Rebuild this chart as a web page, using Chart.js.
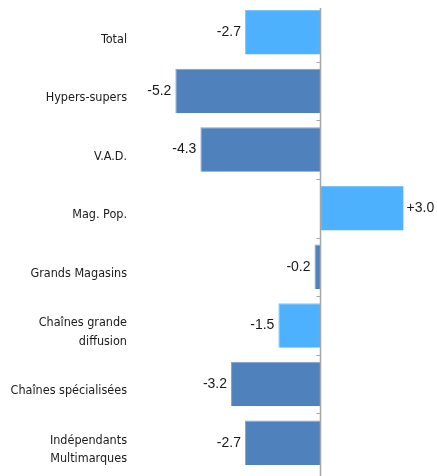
<!DOCTYPE html>
<html>
<head>
<meta charset="utf-8">
<script src="https://cdn.jsdelivr.net/npm/chart.js@4/dist/chart.umd.min.js"></script>
<style>
  html,body{margin:0;padding:0;background:#fff;}
  #wrap{width:437px;height:476px;position:relative;}
</style>
</head>
<body>
<div id="wrap"><canvas id="c"></canvas></div>
<script>
const categories = [
  'Total', 'Hypers-supers', 'V.A.D.', 'Mag. Pop.', 'Grands Magasins',
  ['Chaînes grande', 'diffusion'], 'Chaînes spécialisées', ['Indépendants', 'Multimarques']
];
const values = [-2.7, -5.2, -4.3, 3.0, -0.2, -1.5, -3.2, -2.7];
const highlight = [true, false, false, true, false, true, false, false];

const LIGHT = '#4db1fe', DARK = '#4f81bd';
const FONT = '"DejaVu Sans Condensed", "Liberation Sans", sans-serif';

// zero line + small ticks, and value labels next to bars
const extras = {
  id: 'extras',
  afterDatasetsDraw(chart){
    const {ctx, chartArea, scales:{x, y}} = chart;
    const x0 = Math.round(x.getPixelForValue(0)) + 0.5;
    ctx.save();
    ctx.strokeStyle = '#a6a6a6'; ctx.lineWidth = 1.5;
    ctx.beginPath(); ctx.moveTo(x0, chartArea.top + 5); ctx.lineTo(x0, chart.height); ctx.stroke();
    ctx.lineWidth = 1;
    for(let i = 1; i < categories.length; i++){
      const yy = Math.round((y.getPixelForValue(i-1) + y.getPixelForValue(i))/2) + 0.5;
      ctx.beginPath(); ctx.moveTo(x0-4, yy); ctx.lineTo(x0, yy); ctx.stroke();
    }
    ctx.fillStyle = '#1a1a1a';
    ctx.font = '14px "Liberation Sans", Arial, sans-serif';
    ctx.textBaseline = 'middle';
    chart.getDatasetMeta(0).data.forEach((bar, i)=>{
      const v = values[i];
      const txt = (v > 0 ? '+' : '') + v.toFixed(1);
      if(v < 0){ ctx.textAlign = 'right'; ctx.fillText(txt, bar.x - 4, bar.y); }
      else { ctx.textAlign = 'left'; ctx.fillText(txt, bar.x + 3, bar.y); }
    });
    ctx.restore();
  }
};

new Chart(document.getElementById('c'), {
  type: 'bar',
  data: {
    labels: categories,
    datasets: [{
      data: values,
      backgroundColor: highlight.map(h => h ? LIGHT : DARK),
      borderColor: highlight.map(h => h ? '#7cc6ff' : '#7fa3d3'),
      borderWidth: {left: 1, top: 1},
      borderSkipped: false,
      barPercentage: 0.76,
      categoryPercentage: 1
    }]
  },
  options: {
    indexAxis: 'y',
    responsive: true,
    maintainAspectRatio: false,
    animation: false,
    layout: {padding: {top: 3, right: 0, bottom: 4, left: 0}},
    plugins: {legend: {display: false}, tooltip: {enabled: false}},
    scales: {
      x: {display: false, min: -6.65, max: 4.2},
      y: {
        grid: {display: false},
        border: {display: false},
        afterFit: s => { s.width = 135; s.paddingTop = 0; s.paddingBottom = 0; },
        ticks: {
          color: '#1a1a1a',
          padding: 0,
          labelOffset: 7,
          font: {family: FONT, size: 12.5, lineHeight: 1.5}
        }
      }
    }
  },
  plugins: [extras]
});
</script>
</body>
</html>
